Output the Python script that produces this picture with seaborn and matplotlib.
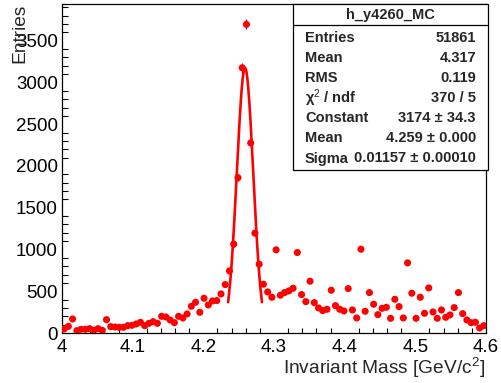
import numpy as np
import pandas as pd
import matplotlib
matplotlib.use("Agg")
import matplotlib.pyplot as plt
import seaborn as sns
from matplotlib.patches import Rectangle
from matplotlib.lines import Line2D
from matplotlib.ticker import MultipleLocator, FormatStrFormatter

# histogram: 100 bins between 4.0 and 4.6 GeV/c^2
x_lo, x_hi, n_bins = 4.0, 4.6, 100
counts = [
    48, 80, 168, 28, 44, 44, 52, 32, 52, 32, 160, 76, 72, 68, 68, 88, 92,
    108, 128, 88, 116, 136, 116, 200, 192, 156, 124, 200, 180, 228, 320, 368, 248, 416,
    336, 384, 388, 468, 580, 744, 1064, 1860,
    3176, 3696, 2276, 1196, 824, 584, 492, 428, 996,
    452, 484, 504, 536, 964, 460, 376, 620, 364, 300, 268, 284, 512, 328, 284, 264,
    532, 276, 180, 1004, 260, 484, 344, 220, 296, 308, 176, 404, 316, 180, 840, 476, 176,
    428, 236, 540, 252, 176, 276, 188, 216, 304, 484, 232, 156, 124, 128, 60, 88,
]

# gaussian fit result (from the stats box)
fit_const, fit_mean, fit_sigma = 3174.0, 4.259, 0.01157
fit_range = (4.235, 4.283)

stat_labels = ["Entries", "Mean", "RMS", "χ$^{2}$ / ndf", "Constant", "Mean", "Sigma"]
stat_values = ["51861", "4.317", "0.119", "370 / 5", "3174 ± 34.3", "4.259 ± 0.000",
               "0.01157 ± 0.00010"]

sns.set_theme(style="white")
plt.rcParams["font.family"] = ["Liberation Sans", "DejaVu Sans"]
plt.rcParams["mathtext.fontset"] = "custom"
plt.rcParams["mathtext.rm"] = "Liberation Sans"
plt.rcParams["mathtext.it"] = "Liberation Sans:italic"
plt.rcParams["mathtext.bf"] = "Liberation Sans:bold"

width = (x_hi - x_lo) / n_bins
centers = x_lo + width * (np.arange(n_bins) + 0.5)
df = pd.DataFrame({"mass": centers, "entries": counts})
df["err"] = np.sqrt(df["entries"])

W, H = 502, 383
fig = plt.figure(figsize=(W / 100, H / 100), dpi=100)
ax = fig.add_axes([62 / W, 1 - 333 / H, 424 / W, 329 / H])

ax.errorbar(df["mass"], df["entries"], xerr=width / 2, yerr=df["err"], fmt="none",
            ecolor="#1a1acc", elinewidth=0.9, capsize=0, zorder=2)
sns.scatterplot(data=df, x="mass", y="entries", color="#ff0000", s=26, edgecolor="none",
                ax=ax, zorder=3)

xf = np.linspace(fit_range[0], fit_range[1], 200)
fit_df = pd.DataFrame({"mass": xf,
                       "y": fit_const * np.exp(-0.5 * ((xf - fit_mean) / fit_sigma) ** 2)})
sns.lineplot(data=fit_df, x="mass", y="y", color="#ff0000", linewidth=1.9, ax=ax, zorder=4)

ax.set_xlim(x_lo, x_hi)
ax.set_ylim(0, 3940)
ax.xaxis.set_major_locator(MultipleLocator(0.1))
ax.xaxis.set_minor_locator(MultipleLocator(0.02))
ax.xaxis.set_major_formatter(FormatStrFormatter("%g"))
ax.yaxis.set_major_locator(MultipleLocator(500))
ax.yaxis.set_minor_locator(MultipleLocator(100))
ax.tick_params(axis="both", which="both", direction="in", labelsize=13.5, colors="black")
ax.tick_params(axis="x", which="major", length=7.1, width=0.8, pad=4)
ax.tick_params(axis="x", which="minor", length=3.6, width=0.8, bottom=True)
ax.tick_params(axis="y", which="major", length=9.1, width=0.8, pad=3)
ax.tick_params(axis="y", which="minor", length=4.6, width=0.8, left=True)
ax.set_xlabel("")
ax.set_ylabel("")
for s in ax.spines.values():
    s.set_color("black")
    s.set_linewidth(0.9)

fig.text(20 / W, 1 - 4 / H, "Entries", rotation=90, ha="center", va="top", fontsize=13.8)
fig.text(485 / W, 1 - 368 / H, "Invariant Mass [GeV/c$^{2}$]", ha="right", va="center",
         fontsize=13.8)

# stats box
bx0, bx1, by0, by1 = 293, 488, 4, 170
fig.patches.append(Rectangle((bx0 / W, 1 - by1 / H), (bx1 - bx0) / W, (by1 - by0) / H,
                             transform=fig.transFigure, facecolor="white",
                             edgecolor="black", linewidth=0.9, zorder=10))
fig.lines.append(Line2D([bx0 / W, bx1 / W], [1 - 25 / H, 1 - 25 / H],
                        transform=fig.transFigure, color="black", linewidth=0.9, zorder=11))
fig.text((bx0 + bx1) / 2 / W, 1 - 14.5 / H, "h_y4260_MC", ha="center", va="center",
         fontsize=10.5, fontweight="bold", zorder=12)
row_y = [37.5, 58, 78.5, 98.5, 118.5, 138.5, 158.5]
for lab, val, ry in zip(stat_labels, stat_values, row_y):
    fig.text(305 / W, 1 - ry / H, lab, ha="left", va="center", fontsize=10.5,
             fontweight="bold", zorder=12)
    fig.text(476 / W, 1 - ry / H, val, ha="right", va="center", fontsize=10.5,
             fontweight="bold", zorder=12)

fig.savefig("out.png", dpi=100, facecolor="white")
